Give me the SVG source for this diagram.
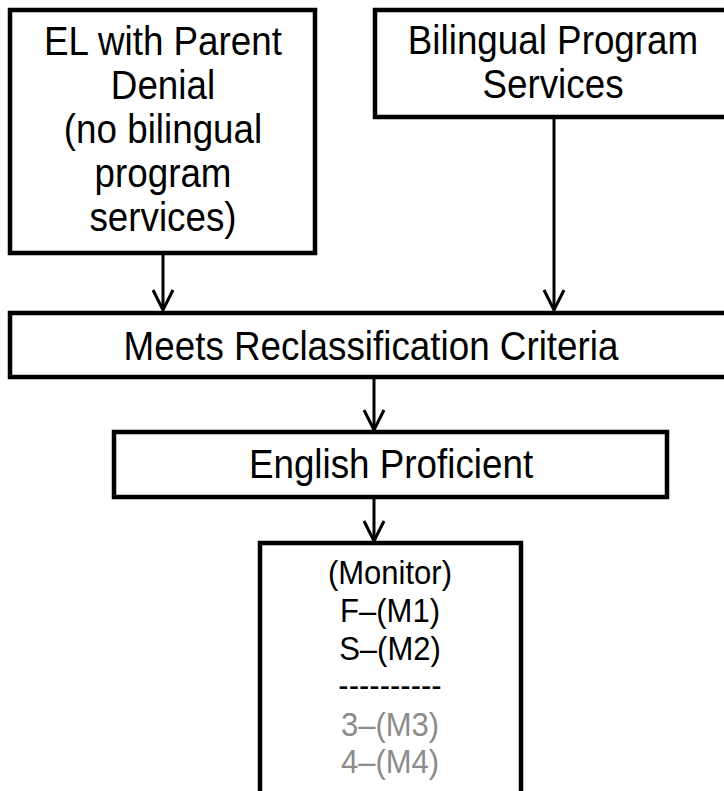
<svg xmlns="http://www.w3.org/2000/svg" width="724" height="791" viewBox="0 0 724 791">
<defs>
<style>
.box{fill:#fff;stroke:#000;stroke-width:4.5;stroke-linejoin:miter}
.t{font-family:"Liberation Sans",Arial,sans-serif;font-size:40px;fill:#000;text-anchor:middle}
.s{font-family:"Liberation Sans",Arial,sans-serif;font-size:33px;fill:#000;text-anchor:middle}
.g{fill:#8c8c8c}
.ln{stroke:#000;stroke-width:3;fill:none}
</style>
<marker id="ah" viewBox="0 0 24 24" markerWidth="24" markerHeight="24" refX="21" refY="12" orient="auto" markerUnits="userSpaceOnUse">
<path d="M1,2 L21,12 L1,22" fill="none" stroke="#000" stroke-width="3"/>
</marker>
</defs>
<rect width="724" height="791" fill="#fff"/>
<g id="connectors">
<line class="ln" x1="163" y1="253" x2="163" y2="310" marker-end="url(#ah)"/>
<line class="ln" x1="554" y1="117" x2="554" y2="310" marker-end="url(#ah)"/>
<line class="ln" x1="374" y1="377" x2="374" y2="430" marker-end="url(#ah)"/>
<line class="ln" x1="374" y1="497" x2="374" y2="541" marker-end="url(#ah)"/>
</g>
<g id="node-el-denial">
<rect class="box" x="10" y="10" width="305" height="243"/>
<text class="t" transform="translate(163,55) scale(0.92,1)">EL with Parent</text>
<text class="t" transform="translate(163,99) scale(0.92,1)">Denial</text>
<text class="t" transform="translate(163,143) scale(0.92,1)">(no bilingual</text>
<text class="t" transform="translate(163,187) scale(0.92,1)">program</text>
<text class="t" transform="translate(163,231) scale(0.92,1)">services)</text>
</g>
<g id="node-bilingual">
<rect class="box" x="375" y="10" width="356" height="107"/>
<text class="t" transform="translate(553,54) scale(0.92,1)">Bilingual Program</text>
<text class="t" transform="translate(553,98) scale(0.92,1)">Services</text>
</g>
<g id="node-meets">
<rect class="box" x="10" y="313" width="721" height="64"/>
<text class="t" transform="translate(371,360) scale(0.92,1)">Meets Reclassification Criteria</text>
</g>
<g id="node-english">
<rect class="box" x="114" y="432" width="553" height="65"/>
<text class="t" transform="translate(391,478) scale(0.92,1)">English Proficient</text>
</g>
<g id="node-monitor">
<rect class="box" x="260" y="543" width="261" height="270"/>
<text class="s" transform="translate(390,584) scale(0.94,1)">(Monitor)</text>
<text class="s" transform="translate(390,622) scale(0.94,1)">F–(M1)</text>
<text class="s" transform="translate(390,660) scale(0.94,1)">S–(M2)</text>
<text class="s" transform="translate(390,697) scale(0.94,1)">----------</text>
<text class="s g" transform="translate(390,736) scale(0.94,1)">3–(M3)</text>
<text class="s g" transform="translate(390,773) scale(0.94,1)">4–(M4)</text>
</g>
</svg>
